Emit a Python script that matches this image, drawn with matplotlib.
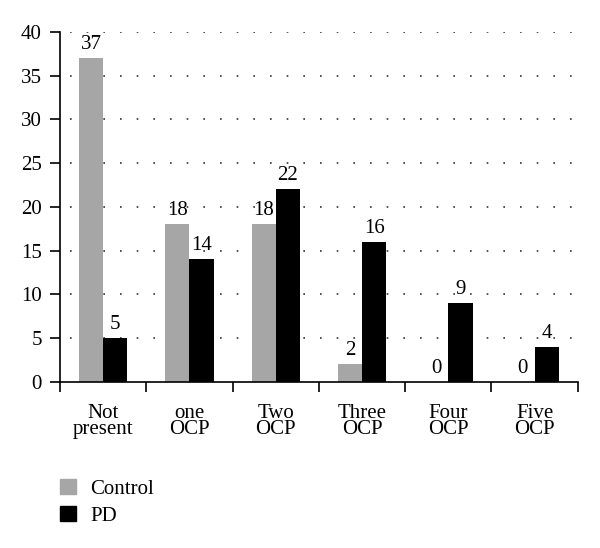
import numpy as np
import matplotlib
matplotlib.use('Agg')
import matplotlib.pyplot as plt
from matplotlib.patches import Patch

plt.rcParams['font.family'] = ['Liberation Serif', 'DejaVu Serif']

# data
categories = ['Not\npresent', 'one\nOCP', 'Two\nOCP', 'Three\nOCP', 'Four\nOCP', 'Five\nOCP']
control = [37, 18, 18, 2, 0, 0]
pd_vals = [5, 14, 22, 16, 9, 4]

fig = plt.figure(figsize=(6, 5.48), dpi=100)
ax = fig.add_axes([0.1, 0.303, 0.863, 0.639])

x = np.arange(len(categories))
w = 0.28
b1 = ax.bar(x - w/2, control, w, color='#a6a6a6', label='Control')
b2 = ax.bar(x + w/2, pd_vals, w, color='black', label='PD')

for bars, vals in [(b1, control), (b2, pd_vals)]:
    for r, v in zip(bars, vals):
        ax.text(r.get_x() + r.get_width()/2, v + 0.5, str(v), ha='center', va='bottom', fontsize=15)

ax.set_xlim(-0.5, len(categories) - 0.5)
ax.set_ylim(0, 40)
ax.set_yticks(np.arange(0, 41, 5))
ax.set_xticks(np.arange(-0.5, len(categories), 1))
ax.set_xticklabels([])
ax.set_xticks(x, minor=True)
ax.set_xticklabels(categories, minor=True, fontsize=15, linespacing=0.8)
ax.tick_params(axis='x', which='minor', length=0, pad=16)
ax.tick_params(axis='x', which='major', length=7, width=1.2)
ax.tick_params(axis='y', length=7, width=1.2, labelsize=15, pad=6)

for s in ['top', 'right']:
    ax.spines[s].set_visible(False)
ax.spines['left'].set_linewidth(1.2)
ax.spines['bottom'].set_linewidth(1.2)

for yv in np.arange(5, 41, 5):
    ax.plot([-0.38, len(categories) - 0.5], [yv, yv], color='#333333',
            linestyle=(0, (1, 9)), linewidth=1.2, zorder=0)

handles = [Patch(color='#a6a6a6'), Patch(color='black')]
fig.legend(handles, ['Control', 'PD'], loc='lower left', bbox_to_anchor=(0.1, 0.04),
           frameon=False, fontsize=15, handlelength=0.75, handleheight=0.75,
           handletextpad=0.7, labelspacing=0.35, borderpad=0, borderaxespad=0)

fig.savefig('out.png', dpi=100)
